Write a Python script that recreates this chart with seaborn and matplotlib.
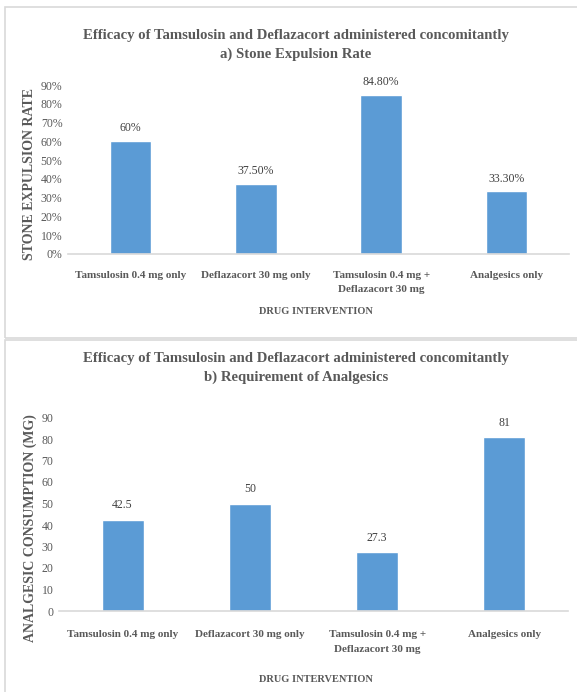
import matplotlib
matplotlib.use("Agg")
import matplotlib.pyplot as plt
import seaborn as sns
import pandas as pd
from matplotlib.patches import Rectangle

# ---- data ----
categories = ["Tamsulosin 0.4 mg only", "Deflazacort 30 mg only",
              "Tamsulosin 0.4 mg +\nDeflazacort 30 mg", "Analgesics only"]
expulsion_rate = [0.60, 0.375, 0.848, 0.333]
expulsion_labels = ["60%", "37.50%", "84.80%", "33.30%"]
analgesic_use = [42.5, 50, 27.3, 81]
analgesic_labels = ["42.5", "50", "27.3", "81"]
rate_ticks = [0, 0.1, 0.2, 0.3, 0.4, 0.5, 0.6, 0.7, 0.8, 0.9]
rate_ticklabels = ["0%", "10%", "20%", "30%", "40%", "50%", "60%", "70%", "80%", "90%"]
mg_ticks = [0, 10, 20, 30, 40, 50, 60, 70, 80, 90]

title_top = "Efficacy of Tamsulosin and Deflazacort administered concomitantly\na) Stone Expulsion Rate"
title_bot = "Efficacy of Tamsulosin and Deflazacort administered concomitantly\nb) Requirement of Analgesics"

sns.set_theme(style="white")
plt.rcParams["font.family"] = ["Liberation Serif", "DejaVu Serif"]

W, H = 577, 692
fig = plt.figure(figsize=(W / 100, H / 100), dpi=100)

def fx(x):
    return x / W

def fy(y):
    return 1 - y / H

TXT = "#595959"
BAR = "#5b9bd5"
BORDER = "#d9d9d9"

# panel borders
fig.patches.append(Rectangle((fx(5), fy(338)), fx(577) - fx(5) + 0.01, fy(7) - fy(338),
                             transform=fig.transFigure, fill=False, edgecolor=BORDER, lw=1.2))
fig.patches.append(Rectangle((fx(5), fy(700)), fx(577) - fx(5) + 0.01, fy(340) - fy(700),
                             transform=fig.transFigure, fill=False, edgecolor=BORDER, lw=1.2))


def panel(left, right, top, bottom, values, labels, ylim, ticks, ticklabels,
          title, title_y, ylabel, ylabel_x, ylabel_y, xlabel_y, lab_off, xpad):
    ax = fig.add_axes([fx(left), fy(bottom), fx(right) - fx(left), fy(top) - fy(bottom)])
    df = pd.DataFrame({"cat": categories, "val": values})
    sns.barplot(data=df, x="cat", y="val", ax=ax, color=BAR, saturation=1, width=0.33)
    ax.set_ylim(*ylim)
    ax.set_xlim(-0.5, 3.5)
    ax.set_yticks(ticks)
    ax.set_yticklabels(ticklabels, color=TXT, fontsize=8.5)
    ax.set_xticks(range(len(categories)))
    ax.set_xticklabels(categories, color=TXT, fontsize=8, fontweight="bold",
                       linespacing=1.75)
    ax.tick_params(axis="both", length=0, pad=4)
    ax.tick_params(axis="x", pad=xpad)
    ax.set_xlabel("")
    ax.set_ylabel("")
    for s in ["top", "right", "left"]:
        ax.spines[s].set_visible(False)
    ax.spines["bottom"].set_color(BORDER)
    ax.spines["bottom"].set_linewidth(1.2)
    for i, (v, l) in enumerate(zip(values, labels)):
        ax.annotate(l, (i, v), xytext=(0, lab_off), textcoords="offset points",
                    ha="center", va="bottom", fontsize=8.5, color="#404040")
    fig.text(fx(296), fy(title_y), title, ha="center", va="center", fontsize=10.6,
             fontweight="bold", color=TXT, linespacing=1.6)
    fig.text(fx(ylabel_x), fy(ylabel_y), ylabel, rotation=90, ha="center", va="center",
             fontsize=10, fontweight="bold", color=TXT)
    fig.text(fx(316), fy(xlabel_y), "DRUG INTERVENTION", ha="center", va="center",
             fontsize=7.5, fontweight="bold", color=TXT)
    return ax


panel(68, 569, 85, 254, expulsion_rate, expulsion_labels, (0, 0.9), rate_ticks,
      rate_ticklabels, title_top, 45, "STONE EXPULSION RATE", 30, 174, 312, 5, 12)
panel(59, 568, 417.5, 611, analgesic_use, analgesic_labels, (0, 90), mg_ticks,
      [str(t) for t in mg_ticks], title_bot, 368, "ANALGESIC CONSUMPTION (MG)", 30, 528, 679, 6, 14)

fig.savefig("out.png", dpi=100, facecolor="white")
